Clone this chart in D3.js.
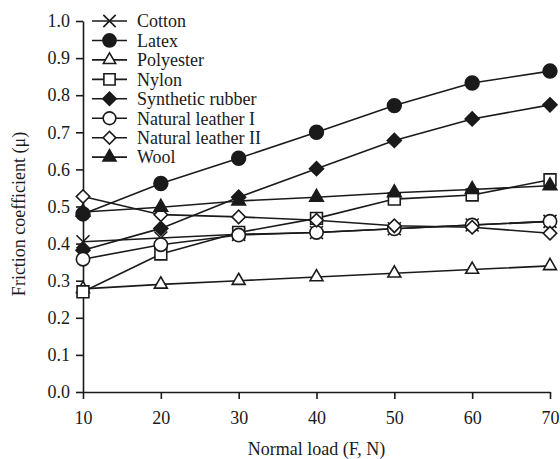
<!DOCTYPE html>
<html>
<head>
<meta charset="utf-8">
<script src="https://cdn.jsdelivr.net/npm/d3@7"></script>
<style>
  body { margin: 0; background: #fff; }
  text { font-family: "Liberation Serif", "Times New Roman", serif; fill: #1a1a1a; }
</style>
</head>
<body>
<script>
// normal load values (x)
const loads = [10, 20, 30, 40, 50, 60, 70];

// friction coefficient per material
const cotton     = [0.405, 0.415, 0.425, 0.430, 0.440, 0.450, 0.460];
const latex      = [0.480, 0.562, 0.630, 0.700, 0.772, 0.833, 0.865];
const polyester  = [0.278, 0.290, 0.300, 0.310, 0.320, 0.330, 0.340];
const nylon      = [0.270, 0.372, 0.430, 0.468, 0.520, 0.531, 0.572];
const synthetic  = [0.382, 0.441, 0.525, 0.602, 0.678, 0.736, 0.774];
const leather1   = [0.358, 0.397, 0.423, 0.430, 0.440, 0.450, 0.460];
const leather2   = [0.527, 0.478, 0.472, 0.463, 0.448, 0.444, 0.428];
const wool       = [0.485, 0.498, 0.515, 0.525, 0.537, 0.546, 0.556];

const seriesNames = ['Cotton', 'Latex', 'Polyester', 'Nylon', 'Synthetic rubber',
                     'Natural leather I', 'Natural leather II', 'Wool'];
const seriesValues = [cotton, latex, polyester, nylon, synthetic, leather1, leather2, wool];

const yTicks = [0, 0.1, 0.2, 0.3, 0.4, 0.5, 0.6, 0.7, 0.8, 0.9, 1.0];
const xTicks = [10, 20, 30, 40, 50, 60, 70];

let width = 560,
    height = 459;

let margin = { top: 21, bottom: 67, left: 83, right: 10 };

const ink = '#1a1a1a';

// marker style per series: symbol, filled?, size
const markers = [
  { type: d3.symbolTimes || d3.symbolX, fill: false, size: 112, stroke: true },
  { type: d3.symbolCircle, fill: true,  size: 150 },
  { type: d3.symbolTriangle, fill: false, size: 72 },
  { type: d3.symbolSquare, fill: false, size: 140 },
  { type: d3.symbolSquare, fill: true,  size: 98, rotate: 45 },
  { type: d3.symbolCircle, fill: false, size: 140 },
  { type: d3.symbolSquare, fill: false, size: 90, rotate: 45 },
  { type: d3.symbolTriangle, fill: true,  size: 80 }
];

let svg = d3.select('body')
            .append('svg')
            .attr('width', width)
            .attr('height', height);

let xScale = d3.scaleLinear()
               .domain([10, 70])
               .range([margin.left, width - margin.right]);

let yScale = d3.scaleLinear()
               .domain([0, 1])
               .range([height - margin.bottom, margin.top]);

// axes
let xAxis = svg.append('g')
               .attr('transform', `translate(0, ${height - margin.bottom})`)
               .call(d3.axisBottom(xScale).tickValues(xTicks).tickSize(7).tickSizeOuter(0).tickPadding(12));

let yAxis = svg.append('g')
               .attr('transform', `translate(${margin.left}, 0)`)
               .call(d3.axisLeft(yScale).tickValues(yTicks).tickFormat(d3.format('.1f'))
                       .tickSize(7).tickSizeOuter(0).tickPadding(6));

svg.selectAll('.domain, .tick line')
   .attr('stroke', ink)
   .attr('stroke-width', 1.6);

svg.selectAll('.tick text')
   .style('font-size', '18px')
   .style('font-family', '"Liberation Serif", serif')
   .attr('fill', ink);

// axis titles
svg.append('text')
   .attr('x', xScale(40))
   .attr('y', 455)
   .text('Normal load (F, N)')
   .style('text-anchor', 'middle')
   .style('font-size', '18px');

svg.append('text')
   .attr('transform', `translate(25, 214) rotate(-90)`)
   .text('Friction coefficient (\u03bc)')
   .style('text-anchor', 'middle')
   .style('font-size', '18px');

// lines
let line = d3.line()
             .x((d, i) => xScale(loads[i]))
             .y(d => yScale(d));

svg.selectAll('.mat-line')
   .data(seriesValues)
   .enter()
   .append('path')
   .attr('class', 'mat-line')
   .attr('fill', 'none')
   .attr('stroke', ink)
   .attr('stroke-width', 1.6)
   .attr('d', d => line(d));

function drawMarker(g, m, x, y, scale) {
  g.append('path')
   .attr('d', d3.symbol().type(m.type).size(m.size * scale)())
   .attr('transform', `translate(${x}, ${y})` + (m.rotate ? ` rotate(${m.rotate})` : ''))
   .attr('fill', m.stroke ? 'none' : (m.fill ? ink : '#fff'))
   .attr('stroke', ink)
   .attr('stroke-width', 1.6);
}

// markers
seriesValues.forEach((vals, s) => {
  let g = svg.append('g').attr('class', 'markers');
  vals.forEach((v, i) => drawMarker(g, markers[s], xScale(loads[i]), yScale(v), 1));
});

// legend
let legend = svg.append('g')
                .attr('class', 'legend')
                .attr('transform', 'translate(92, 21)');

seriesNames.forEach((name, i) => {
  let g = legend.append('g')
                .attr('transform', `translate(0, ${i * 19.45})`);

  g.append('line')
   .attr('x1', 0)
   .attr('x2', 35)
   .attr('stroke', ink)
   .attr('stroke-width', 1.6);

  drawMarker(g, markers[i], 17.5, 0, 0.9);

  g.append('text')
   .attr('x', 45)
   .attr('y', 0)
   .attr('dy', '0.35em')
   .text(name)
   .style('font-size', '18px');
});
</script>
</body>
</html>
